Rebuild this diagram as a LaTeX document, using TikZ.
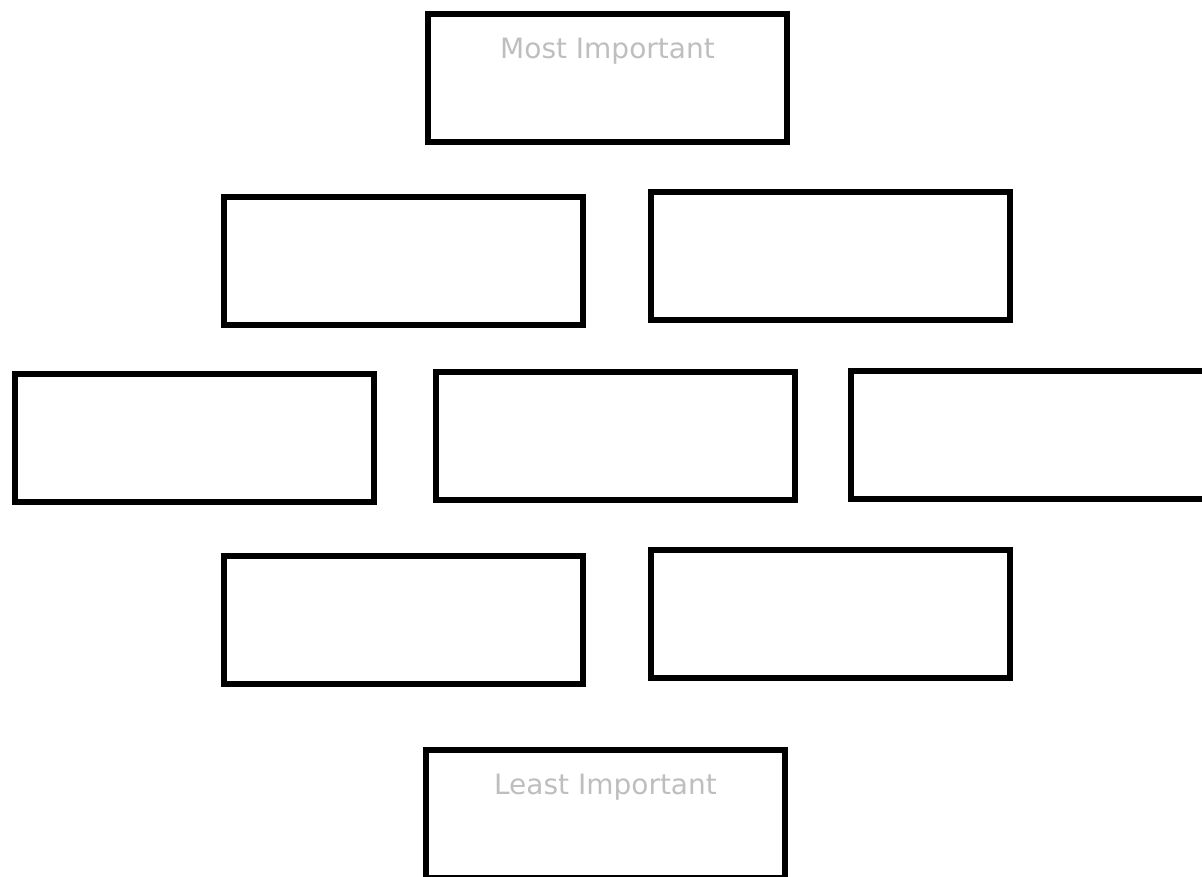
\documentclass[tikz,border=0pt]{standalone}
\usepackage{fontspec}
\setmainfont{DejaVu Sans}
\definecolor{hintgray}{RGB}{190,190,190}
\tikzset{
  slot/.style={draw, line width=6pt, minimum width=359pt, minimum height=128pt, inner sep=0pt},
  hint/.style={text=hintgray, font=\fontsize{28}{32}\selectfont, inner sep=0pt, anchor=base}
}
\begin{document}
\begin{tikzpicture}[x=1pt, y=-1pt]
\clip (0,0) rectangle (1202,877);
\node[slot] (s1) at (607.5,78) {};
\node[slot] (s2) at (403,261) {};
\node[slot] (s3) at (830,256.5) {};
\node[slot] (s4) at (194,438) {};
\node[slot] (s5) at (615,436) {};
\node[slot] (s6) at (1030,434.5) {};
\node[slot] (s7) at (403,620) {};
\node[slot] (s8) at (830,614) {};
\node[slot] (s9) at (605.5,814) {};

\node[hint] (t1) at ([yshift=-48pt]s1.north) {Most Important};
\node[hint] (t9) at ([yshift=-47pt]s9.north) {Least Important};
\end{tikzpicture}
\end{document}
